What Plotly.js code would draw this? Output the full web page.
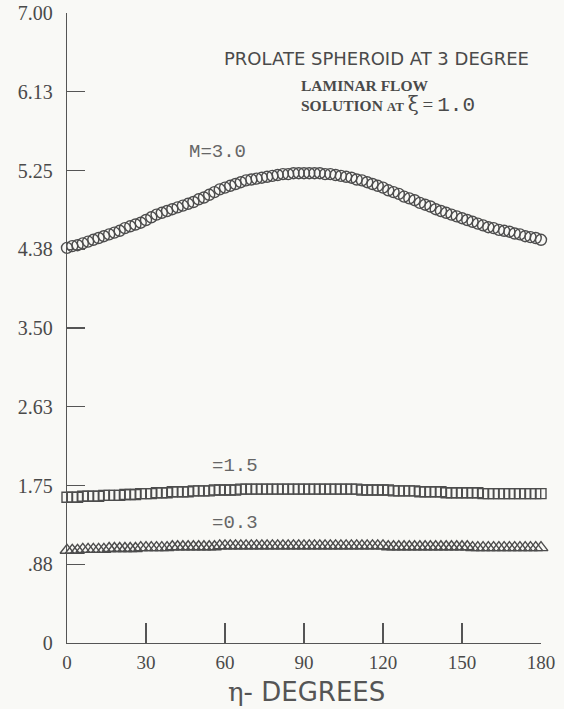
<!DOCTYPE html>
<html>
<head>
<meta charset="utf-8">
<script src="https://cdn.plot.ly/plotly-3.0.1.min.js"></script>
<style>html,body{margin:0;padding:0;background:#f9f9f6;}</style>
</head>
<body>
<div id="chart" style="width:564px;height:709px;"></div>
<script>
// eta in degrees
const eta = [0,2,4,6,8,10,12,14,16,18,20,22,24,26,28,30,32,34,36,38,40,42,44,46,48,50,52,54,56,58,60,62,64,66,68,70,72,74,76,78,80,82,84,86,88,90,92,94,96,98,100,102,104,106,108,110,112,114,116,118,120,122,124,126,128,130,132,134,136,138,140,142,144,146,148,150,152,154,156,158,160,162,164,166,168,170,172,174,176,178,180];

const m30 = [4.39,4.41,4.42,4.44,4.46,4.48,4.50,4.52,4.54,4.56,4.58,4.61,4.63,4.65,4.67,4.70,4.73,4.76,4.78,4.80,4.82,4.84,4.86,4.88,4.90,4.93,4.95,4.98,5.01,5.04,5.06,5.08,5.10,5.12,5.14,5.15,5.16,5.17,5.18,5.19,5.20,5.21,5.21,5.22,5.22,5.22,5.22,5.22,5.22,5.21,5.21,5.20,5.19,5.18,5.17,5.15,5.14,5.12,5.10,5.08,5.06,5.03,5.01,4.99,4.96,4.94,4.92,4.89,4.87,4.85,4.82,4.80,4.78,4.76,4.74,4.72,4.70,4.68,4.66,4.64,4.62,4.61,4.59,4.58,4.57,4.55,4.54,4.52,4.51,4.50,4.48];

const m15 = [1.62,1.62,1.62,1.63,1.63,1.63,1.63,1.64,1.64,1.64,1.64,1.65,1.65,1.65,1.66,1.66,1.66,1.67,1.67,1.67,1.68,1.68,1.68,1.68,1.69,1.69,1.69,1.69,1.70,1.70,1.70,1.70,1.70,1.71,1.71,1.71,1.71,1.71,1.71,1.71,1.71,1.71,1.71,1.71,1.71,1.71,1.71,1.71,1.71,1.71,1.71,1.71,1.71,1.71,1.71,1.71,1.70,1.70,1.70,1.70,1.70,1.70,1.69,1.69,1.69,1.69,1.69,1.68,1.68,1.68,1.68,1.68,1.67,1.67,1.67,1.67,1.67,1.67,1.67,1.66,1.66,1.66,1.66,1.66,1.66,1.66,1.66,1.66,1.66,1.66,1.66];

const m03 = [1.03,1.03,1.03,1.04,1.04,1.04,1.04,1.04,1.05,1.05,1.05,1.05,1.05,1.05,1.06,1.06,1.06,1.06,1.06,1.06,1.07,1.07,1.07,1.07,1.07,1.07,1.07,1.07,1.07,1.08,1.08,1.08,1.08,1.08,1.08,1.08,1.08,1.08,1.08,1.08,1.08,1.08,1.08,1.08,1.08,1.08,1.08,1.08,1.08,1.08,1.08,1.08,1.08,1.08,1.08,1.08,1.08,1.08,1.08,1.08,1.08,1.07,1.07,1.07,1.07,1.07,1.07,1.07,1.07,1.07,1.07,1.07,1.07,1.07,1.07,1.07,1.07,1.06,1.06,1.06,1.06,1.06,1.06,1.06,1.06,1.06,1.06,1.06,1.06,1.06,1.06];

const yTickVals = [0, 0.875, 1.75, 2.625, 3.5, 4.375, 5.25, 6.125, 7.0];
const yTickText = ["0", ".88", "1.75", "2.63", "3.50", "4.38", "5.25", "6.13", "7.00"];
const xTickVals = [0, 30, 60, 90, 120, 150, 180];
const xTickText = ["0", "30", "60", "90", "120", "150", "180"];

const ink = '#4d4d4d';
const mk = (sym, size) => ({symbol: sym, size: size, color: ink, line: {color: ink, width: 1.4}});

const traces = [
  {x: eta, y: m30, mode: 'markers', marker: mk('circle-open', 11), cliponaxis: false, name: 'M=3.0'},
  {x: eta, y: m15, mode: 'markers', marker: mk('square-open', 10), cliponaxis: false, name: 'M=1.5'},
  {x: eta, y: m03, mode: 'markers', marker: mk('triangle-up-open', 12), cliponaxis: false, name: 'M=0.3'}
];

const txt = '#4a4a4a';
const layout = {
  width: 564, height: 709,
  margin: {l: 67, r: 23, t: 13, b: 66},
  paper_bgcolor: '#f9f9f6', plot_bgcolor: '#f9f9f6',
  showlegend: false,
  xaxis: {
    range: [0, 180], showgrid: false, zeroline: false,
    showline: true, linecolor: '#555', linewidth: 1.3,
    ticks: 'inside', ticklen: 20, tickwidth: 1.3, tickcolor: '#555',
    tickvals: xTickVals, ticktext: xTickText,
    tickfont: {family: 'Liberation Serif, serif', size: 19, color: txt},
    ticklabelstandoff: 2
  },
  yaxis: {
    range: [0, 7], showgrid: false, zeroline: false,
    showline: true, linecolor: '#555', linewidth: 1.3,
    ticks: 'inside', ticklen: 18, tickwidth: 1.3, tickcolor: '#555',
    tickvals: yTickVals, ticktext: yTickText,
    tickfont: {family: 'Liberation Serif, serif', size: 20, color: txt},
    ticklabelstandoff: 9
  },
  annotations: [
    {xref: 'x', yref: 'y', x: 59, y: 6.5, xanchor: 'left', yanchor: 'middle', showarrow: false,
     text: 'PROLATE SPHEROID AT 3 DEGREE', font: {family: 'DejaVu Sans', size: 18, color: txt}},
    {xref: 'x', yref: 'y', x: 88, y: 6.19, xanchor: 'left', yanchor: 'middle', showarrow: false,
     text: '<b>LAMINAR FLOW</b>', font: {family: 'Liberation Serif', size: 15.5, color: txt}},
    {xref: 'x', yref: 'y', x: 88, y: 5.98, xanchor: 'left', yanchor: 'middle', showarrow: false,
     text: '<b>SOLUTION</b> <span style="font-size:13px"><b>AT</b></span> <span style="font-family:DejaVu Serif;font-size:20px">ξ</span> <span style="font-size:19px">=</span> <span style="font-family:Liberation Mono;font-size:21px">1.0</span>',
     font: {family: 'Liberation Serif', size: 15.5, color: txt}},
    {xref: 'x', yref: 'y', x: 57, y: 5.46, xanchor: 'center', yanchor: 'middle', showarrow: false,
     text: 'M=3.0', font: {family: 'Liberation Mono', size: 19, color: '#666'}},
    {xref: 'x', yref: 'y', x: 63.8, y: 1.97, xanchor: 'center', yanchor: 'middle', showarrow: false,
     text: '=1.5', font: {family: 'Liberation Mono', size: 19, color: '#666'}},
    {xref: 'x', yref: 'y', x: 63.8, y: 1.33, xanchor: 'center', yanchor: 'middle', showarrow: false,
     text: '=0.3', font: {family: 'Liberation Mono', size: 19, color: '#666'}},
    {xref: 'paper', yref: 'paper', x: 0.505, y: -0.077, xanchor: 'center', yanchor: 'middle', showarrow: false,
     text: '<span style="font-family:DejaVu Serif">η</span>- DEGREES', font: {family: 'DejaVu Sans', size: 26, color: '#555'}}
  ]
};

Plotly.newPlot('chart', traces, layout, {displayModeBar: false, staticPlot: true});
</script>
</body>
</html>
